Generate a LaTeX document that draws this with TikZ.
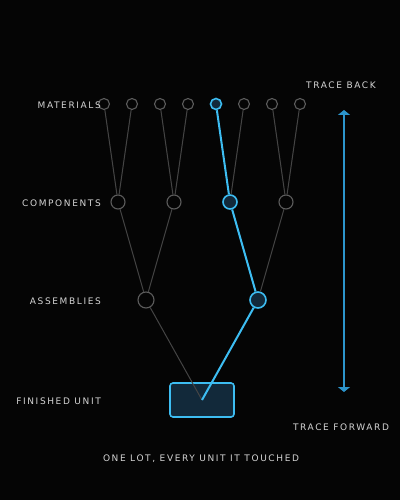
\documentclass[tikz,border=0pt]{standalone}
\usepackage{xcolor}
\usepackage{fontspec}
\usetikzlibrary{arrows.meta}
\newfontfamily\lblfont[LetterSpace=18]{DejaVu Sans}
\definecolor{bgblack}{HTML}{050505}
\definecolor{wire}{HTML}{444444}
\definecolor{ring}{HTML}{5C5C5C}
\definecolor{hot}{HTML}{3DBDF2}
\definecolor{hotfill}{HTML}{12293A}
\definecolor{arrowblue}{HTML}{2C95CC}
\definecolor{lbl}{HTML}{D4D4D4}
\tikzset{
  mat/.style={circle,draw=ring,line width=1.1pt,fill=bgblack,minimum size=11pt,inner sep=0pt},
  comp/.style={mat,minimum size=14pt},
  asm/.style={mat,minimum size=16pt},
  hotnode/.style={draw=hot,fill=hotfill,line width=1.6pt},
  wireline/.style={draw=wire,line width=1pt},
  hotline/.style={draw=hot,line width=2pt},
  tier/.style={anchor=east,text=lbl,font=\lblfont\fontsize{9}{10}\selectfont,inner sep=0pt},
  note/.style={text=lbl,font=\lblfont\fontsize{9}{10}\selectfont,inner sep=0pt}
}
\begin{document}
\begin{tikzpicture}[x=1pt,y=-1pt]
                \fill[bgblack] (0,0) rectangle (400,500);
                \useasboundingbox (0,0) rectangle (400,500);

                % finished unit
                \node[draw=hot,fill=hotfill,line width=1.6pt,rounded corners=3pt,
                      minimum width=64pt,minimum height=34pt] (unit) at (202,400) {};

                % materials
                \node[mat] (m1) at (104,104) {};
                \node[mat] (m2) at (132,104) {};
                \node[mat] (m3) at (160,104) {};
                \node[mat] (m4) at (188,104) {};
                \node[mat,hotnode] (m5) at (216,104) {};
                \node[mat] (m6) at (244,104) {};
                \node[mat] (m7) at (272,104) {};
                \node[mat] (m8) at (300,104) {};

                % components
                \node[comp] (c1) at (118,202) {};
                \node[comp] (c2) at (174,202) {};
                \node[comp,hotnode] (c3) at (230,202) {};
                \node[comp] (c4) at (286,202) {};

                % assemblies
                \node[asm] (a1) at (146,300) {};
                \node[asm,hotnode] (a2) at (258,300) {};

                \draw[wireline] (m1) -- (c1);
                \draw[wireline] (m2) -- (c1);
                \draw[wireline] (m3) -- (c2);
                \draw[wireline] (m4) -- (c2);
                \draw[wireline] (m6) -- (c3);
                \draw[wireline] (m7) -- (c4);
                \draw[wireline] (m8) -- (c4);

                \draw[wireline] (c1) -- (a1);
                \draw[wireline] (c2) -- (a1);
                \draw[wireline] (c4) -- (a2);

                \draw[wireline] (a1) -- (unit.center);

                % the traced lot
                \draw[hotline] (m5) -- (c3);
                \draw[hotline] (c3) -- (a2);
                \draw[hotline] (a2) -- (unit.center);

                % tier labels
                \node[tier] (tmat) at (101,105) {MATERIALS};
                \node[tier] (tcomp) at (101,203) {COMPONENTS};
                \node[tier] (tasm) at (101,301) {ASSEMBLIES};
                \node[tier] (tunit) at (101,401) {FINISHED UNIT};

                % direction
                \node[note] (back) at (341,85) {TRACE BACK};
                \node[note] (fwd) at (341,427) {TRACE FORWARD};
                \coordinate (top) at (344,110);
                \coordinate (bot) at (344,392);
                \draw[arrowblue,line width=1.2pt,{Triangle[width=12pt,length=5pt]}-{Triangle[width=12pt,length=5pt]}] (top) -- (bot);

                \node[note] (caption) at (201,459) {ONE LOT, EVERY UNIT IT TOUCHED};
\end{tikzpicture}
\end{document}
